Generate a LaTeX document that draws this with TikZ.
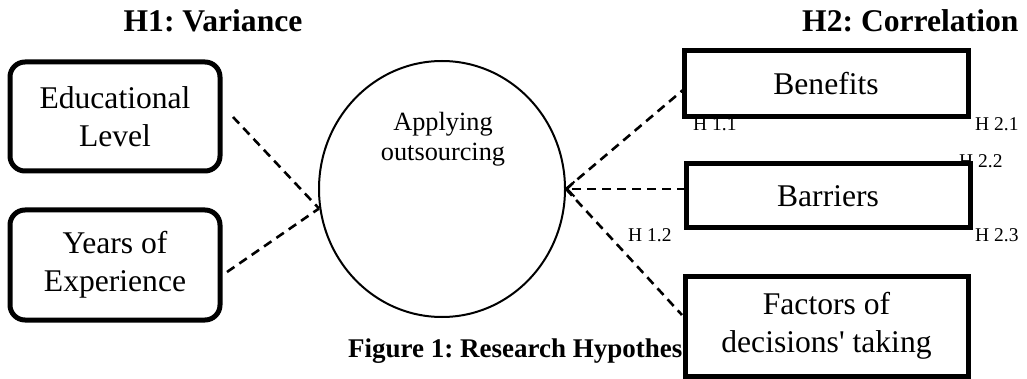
\documentclass[tikz,border=0pt]{standalone}
\usepackage{fontspec}
\setmainfont{Liberation Serif}
\usetikzlibrary{arrows.meta,shapes.geometric}
\frenchspacing
\begin{document}
\frenchspacing
\begin{tikzpicture}[x=1pt,y=-1pt,
  rbox/.style={draw,line width=5pt,rounded corners=15pt,fill=white,inner sep=0pt,align=center,font=\fontsize{31.6}{38}\selectfont},
  sbox/.style={draw,line width=5pt,fill=white,inner sep=0pt,align=center,font=\fontsize{31.6}{38}\selectfont},
  hlab/.style={anchor=base west,inner sep=0pt,font=\fontsize{19.5}{20}\selectfont},
  titletext/.style={inner sep=0pt,font=\bfseries\fontsize{31.6}{36}\selectfont},
  dline/.style={line width=2.6pt,dash pattern=on 9pt off 6pt}]
\useasboundingbox (0,0) rectangle (1027,379);

% titles and caption
\node[titletext,anchor=base] (t1) at (213,32) {H1: Variance};
\node[titletext,anchor=base west] (t2) at (802,32) {H2: Correlation};
\node[anchor=base west,inner sep=0pt,font=\bfseries\fontsize{27}{30}\selectfont] (cap) at (348,357) {Figure 1: Research Hypotheses};

% hypothesis labels
\node[hlab] (h11) at (693,130.5) {H 1.1};
\node[hlab] (h21) at (975,130.5) {H 2.1};
\node[hlab] (h22) at (959,168) {H 2.2};
\node[hlab] (h23) at (975,241) {H 2.3};
\node[hlab] (h12) at (628,241) {H 1.2};

% left boxes
\node[rbox,minimum width=210pt,minimum height=109pt] (edu) at (115,116.5) {Educational\\Level};
\node[rbox,minimum width=210pt,minimum height=110pt] (yrs) at (115,265) {Years of\\Experience};

% right boxes
\node[sbox,minimum width=284pt,minimum height=66pt] (ben) at (826,84) {Benefits};
\node[sbox,minimum width=284pt,minimum height=64pt] (bar) at (828,196) {Barriers};
\node[sbox,minimum width=283pt,minimum height=100pt] (fac) at (826.5,326) {Factors of\\decisions\textquotesingle{} taking};

% central circle
\node[draw,ellipse,line width=2pt,minimum width=246pt,minimum height=256pt,inner sep=0pt] (circ) at (442,189) {};
\node[inner sep=0pt,align=center,font=\fontsize{26.3}{30}\selectfont] (ctext) at (443,139) {Applying\\outsourcing};

% connector end points
\coordinate (eduend) at (233,117);
\coordinate (yrsend) at (227,272);
\coordinate (cleft) at (319,208.5);
\coordinate (benend) at (683,90);
\coordinate (barend) at (686,189);
\coordinate (facend) at (682,315);

% connectors
\draw[dline] (eduend) -- (cleft);
\draw[dline] (yrsend) -- (cleft);
\draw[dline] (circ.east) -- (benend);
\draw[dline,-{Straight Barb[length=7pt,width=15pt,line width=2pt]}] (barend) -- (circ.east);
\draw[dline] (circ.east) -- (facend);
\end{tikzpicture}
\end{document}
